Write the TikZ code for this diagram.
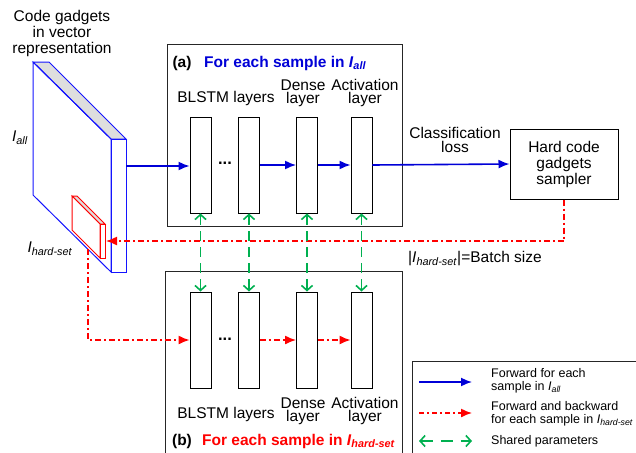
\documentclass[tikz,border=0pt]{standalone}
\usepackage{fontspec}
\setmainfont{Liberation Sans}
\usetikzlibrary{arrows.meta}
\definecolor{myblue}{RGB}{0,0,215}
\definecolor{slabblue}{RGB}{20,20,255}
\definecolor{myred}{RGB}{255,0,0}
\definecolor{mygreen}{RGB}{0,176,80}
\definecolor{topgray}{RGB}{222,222,222}
\newcommand\Isub[1]{\textit{I}\textsubscript{\textit{#1}}}
\begin{document}
\begin{tikzpicture}[x=1pt,y=-1pt,
  txt/.style={inner sep=0pt, font=\fontsize{15.5}{13}\selectfont, align=center},
  txtw/.style={inner sep=0pt, font=\fontsize{15.5}{16}\selectfont, align=center},
  legtxt/.style={inner sep=0pt, font=\fontsize{12.5}{13}\selectfont, align=left, anchor=west},
  frame/.style={draw=black!85, line width=1pt},
  layerbox/.style={draw=black, line width=0.95pt, minimum width=21pt, minimum height=96pt, inner sep=0pt},
  bluearrow/.style={draw=myblue, line width=1.6pt, -{Latex[length=11pt,width=9pt]}},
  redarrow/.style={draw=myred, line width=1.4pt, dash pattern=on 6pt off 3pt on 2pt off 3pt, -{Latex[length=11pt,width=9pt]}},
  greenarrow/.style={draw=mygreen, line width=1.6pt, dash pattern=on 10pt off 6pt, {Straight Barb[length=5pt,width=11pt]}-{Straight Barb[length=5pt,width=11pt]}}
]
\useasboundingbox (0,0) rectangle (636,452);

% input slab
\filldraw[draw=slabblue, fill=topgray, line width=1pt] (33,62) -- (49,62) -- (126,139) -- (111,139) -- cycle;
\draw[slabblue, line width=1pt] (33,62) -- (111,139) -- (111,272) -- (33,195) -- cycle;
\draw[slabblue, line width=1pt] (111,139) rectangle (126,272);
% hard set slab
\filldraw[draw=myred, fill=topgray, line width=1pt] (72,196) -- (77,196) -- (105,224) -- (100,224) -- cycle;
\draw[myred, line width=1pt, fill=white] (72,196) -- (100,224) -- (100,258) -- (72,230) -- cycle;
\draw[myred, line width=1pt, fill=white] (100,224) rectangle (105,258);

\node[txtw] (title) at (62,33) {Code gadgets\\in vector\\representation};
\node[txt] (iall) at (20,138) {\Isub{all}};
\node[txt] (ihard) at (50,249) {\Isub{hard-set}};

\coordinate (slabout) at (126,166);
\coordinate (slabin) at (106,241);
\coordinate (hsout) at (88,249);

% boxes
\node[frame, minimum width=235pt, minimum height=181pt, inner sep=0pt] (boxa) at (284.5,135.5) {};
\node[frame, minimum width=237pt, minimum height=186pt, inner sep=0pt] (boxb) at (283.5,364) {};
\node[frame, minimum width=230pt, minimum height=96pt, inner sep=0pt] (legend) at (527,409) {};

% layers (a)
\node[layerbox] (r1a) at (200.5,165) {};
\node[layerbox] (r2a) at (249,165) {};
\node[layerbox] (r3a) at (307,165) {};
\node[layerbox] (r4a) at (361.5,165) {};
% layers (b)
\node[layerbox] (r1b) at (200.5,340) {};
\node[layerbox] (r2b) at (249,340) {};
\node[layerbox] (r3b) at (307,340) {};
\node[layerbox] (r4b) at (361.5,340) {};

\node[txt, font=\bfseries\fontsize{16.5}{12}\selectfont] (dotsa) at (225,163) {...};
\node[txt, font=\bfseries\fontsize{16.5}{12}\selectfont] (dotsb) at (225,339) {...};

% labels (a)
\node[txt, font=\bfseries\fontsize{15.5}{12}\selectfont] (la) at (182,63) {(a)};
\node[txt, font=\bfseries\fontsize{15.5}{12}\selectfont, text=myblue, anchor=west] (fa) at (204,63) {For each sample in \Isub{all}};
\node[txt] (bla) at (226,98) {BLSTM layers};
\node[txt] (dla) at (303,93) {Dense\\layer};
\node[txt] (ala) at (365,93) {Activation\\layer};
% labels (b)
\node[txt] (blb) at (226,414) {BLSTM layers};
\node[txt] (dlb) at (303,411) {Dense\\layer};
\node[txt] (alb) at (365,411) {Activation\\layer};
\node[txt, font=\bfseries\fontsize{15.5}{12}\selectfont] (lb) at (182,441) {(b)};
\node[txt, font=\bfseries\fontsize{15.5}{12}\selectfont, text=myred, anchor=west] (fb) at (202,441) {For each sample in \Isub{hard-set}};

% sampler
\node[draw=black, line width=1pt, minimum width=108pt, minimum height=70pt, inner sep=0pt, txtw] (sampler) at (564,164) {Hard code\\gadgets\\sampler};
\node[txt, font=\fontsize{15.5}{14}\selectfont] (closs) at (455,140) {Classification\\loss};
\node[txt] (bsize) at (475,259) {|\Isub{hard-set}|=Batch size};

% blue forward
\draw[bluearrow] (slabout) -- (r1a.west |- slabout);
\draw[bluearrow] (r2a.east) -- (r3a.west);
\draw[bluearrow] (r3a.east) -- (r4a.west);
\draw[bluearrow] (r4a.east) -- (sampler.west);

% red
\draw[redarrow] (sampler.south) |- (slabin);
\draw[redarrow] (hsout) |- (r1b.west);
\draw[redarrow] (r2b.east) -- (r3b.west);
\draw[redarrow] (r3b.east) -- (r4b.west);

% green shared
\draw[greenarrow] (r1a.south) -- (r1b.north);
\draw[greenarrow] (r2a.south) -- (r2b.north);
\draw[greenarrow] (r3a.south) -- (r3b.north);
\draw[greenarrow] (r4a.south) -- (r4b.north);

% legend
\coordinate (l1a) at (419,382); \coordinate (l1b) at (472,382);
\coordinate (l2a) at (419,413); \coordinate (l2b) at (472,413);
\coordinate (l3a) at (419,441); \coordinate (l3b) at (472,441);
\draw[bluearrow] (l1a) -- (l1b);
\draw[redarrow, dash pattern=on 5pt off 3pt on 2pt off 3pt] (l2a) -- (l2b);
\draw[greenarrow, dash pattern=on 12pt off 8pt] (l3a) -- (l3b);
\node[legtxt] (t1) at (491,381) {Forward for each\\sample in \Isub{all}};
\node[legtxt] (t2) at (491,414) {Forward and backward\\for each sample in \Isub{hard-set}};
\node[legtxt] (t3) at (491,441) {Shared parameters};
\end{tikzpicture}
\end{document}
